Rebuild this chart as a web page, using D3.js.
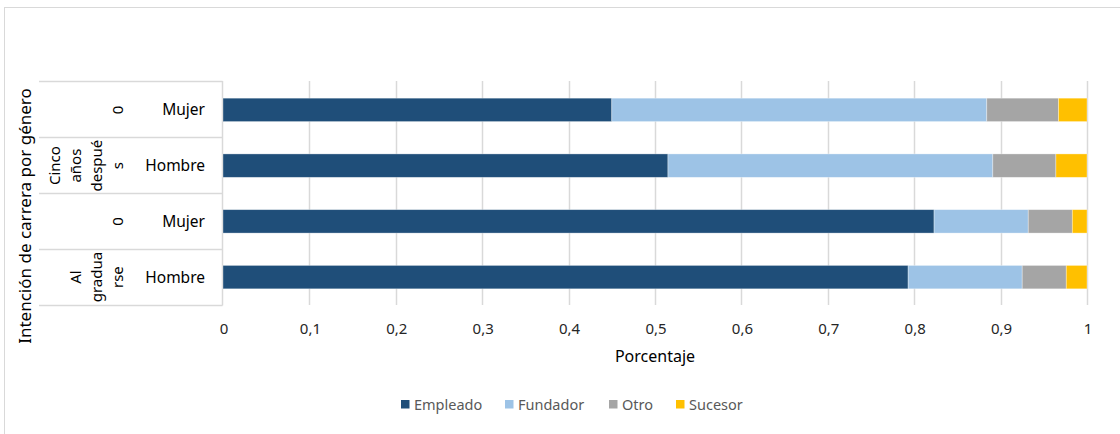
<!DOCTYPE html>
<html>
<head>
<meta charset="utf-8">
<script src="https://cdn.jsdelivr.net/npm/d3@7"></script>
<style>
  html, body { margin: 0; padding: 0; background: #fff; }
  svg { display: block; font-family: "Noto Sans", "Open Sans", sans-serif; }
</style>
</head>
<body>
<svg id="chart" width="1120" height="434"></svg>
<script>
// ---- data (rows top to bottom) ----
const rowLabels = ["Mujer", "Hombre", "Mujer", "Hombre"];
const groupLines = [["0"], ["Cinco", "años", "despué", "s"], ["0"], ["Al", "gradua", "rse"]];
const seriesNames = ["Empleado", "Fundador", "Otro", "Sucesor"];
const empleado = [0.450, 0.515, 0.823, 0.793];
const fundador = [0.434, 0.376, 0.109, 0.132];
const otro     = [0.083, 0.073, 0.051, 0.051];
const sucesor  = [0.033, 0.036, 0.017, 0.024];
const xTicks = [0, 0.1, 0.2, 0.3, 0.4, 0.5, 0.6, 0.7, 0.8, 0.9, 1];
const colors = ["#1F4E79", "#9DC3E6", "#A5A5A5", "#FFC000"];
const xTitle = "Porcentaje";
const yTitle = "Intención de carrera por género";

const table = rowLabels.map((r, i) => ({
  idx: i, Empleado: empleado[i], Fundador: fundador[i], Otro: otro[i], Sucesor: sucesor[i]
}));

const svg = d3.select("#chart");
const gridColor = "#d9d9d9";

// chart border
svg.append("rect").attr("x", 4.5).attr("y", 7.5).attr("width", 1130).attr("height", 440)
  .attr("fill", "none").attr("stroke", gridColor).attr("stroke-width", 1);

const x = d3.scaleLinear().domain([0, 1]).range([223, 1087]);
const y = d3.scaleBand().domain(table.map(d => d.idx)).range([82, 305])
  .paddingInner(0.58).paddingOuter(0.29);

const locale = d3.formatLocale({decimal: ",", thousands: ".", grouping: [3], currency: ["", "€"]});
const fmt = locale.format(".1~f");

// gridlines
svg.append("g").selectAll("line").data(xTicks.filter(t => t > 0)).join("line")
  .attr("x1", d => Math.round(x(d)) + 0.5).attr("x2", d => Math.round(x(d)) + 0.5)
  .attr("y1", 81).attr("y2", 305)
  .attr("stroke", gridColor).attr("stroke-width", 1.5);

// tick labels
svg.append("g").selectAll("text").data(xTicks).join("text")
  .attr("x", d => x(d) + 1).attr("y", 334)
  .attr("text-anchor", "middle").attr("font-size", 15).attr("fill", "#262626")
  .text(d => fmt(d));

// category table lines
const rowEdges = d3.range(rowLabels.length + 1).map(i => 81 + i * 56);
svg.append("g").selectAll("line").data(rowEdges).join("line")
  .attr("x1", 39).attr("x2", 222.5)
  .attr("y1", d => d + 0.5).attr("y2", d => d + 0.5)
  .attr("stroke", gridColor).attr("stroke-width", 1.5);
svg.append("line").attr("x1", 222.5).attr("x2", 222.5).attr("y1", 81).attr("y2", 305.5)
  .attr("stroke", gridColor).attr("stroke-width", 1.5);

// stacked bars
const stack = d3.stack().keys(seriesNames);
const layers = stack(table);
svg.append("g").selectAll("g").data(layers).join("g")
  .attr("fill", (d, i) => colors[i])
  .selectAll("rect").data(d => d).join("rect")
  .attr("x", d => x(d[0])).attr("width", d => x(d[1]) - x(d[0]))
  .attr("y", d => y(d.data.idx)).attr("height", y.bandwidth())
  .attr("stroke", "#ffffff").attr("stroke-opacity", 0.45).attr("stroke-width", 0.75);

// row labels
svg.append("g").selectAll("text").data(rowLabels).join("text")
  .attr("x", 205).attr("y", (d, i) => y(i) + y.bandwidth() / 2)
  .attr("dy", "0.36em").attr("text-anchor", "end")
  .attr("font-size", 15.5).attr("fill", "#000")
  .text(d => d);

// group labels (rotated, wrapped)
const gl = svg.append("g");
groupLines.forEach((lines, i) => {
  const cy = y(i) + y.bandwidth() / 2;
  const n = lines.length;
  lines.forEach((t, j) => {
    const cx = 118 - (n - 1 - j) * 21;
    gl.append("text")
      .attr("transform", `translate(${cx},${cy}) rotate(-90)`)
      .attr("dy", "0.36em").attr("text-anchor", "middle")
      .attr("font-size", 15).attr("fill", "#000")
      .text(t);
  });
});

// axis titles
svg.append("text").attr("x", 655).attr("y", 362).attr("text-anchor", "middle")
  .attr("font-size", 16).attr("fill", "#000").text(xTitle);
svg.append("text").attr("transform", "translate(25,216) rotate(-90)")
  .attr("dy", "0.36em").attr("text-anchor", "middle")
  .attr("font-size", 17).attr("fill", "#000").text(yTitle);

// legend
const legendX = [401, 505, 609, 676];
const lg = svg.append("g").selectAll("g").data(seriesNames).join("g")
  .attr("transform", (d, i) => `translate(${legendX[i]},400)`);
lg.append("rect").attr("width", 8.5).attr("height", 8.5).attr("fill", (d, i) => colors[i]);
lg.append("text").attr("x", 13).attr("y", 4.5).attr("dy", "0.36em")
  .attr("font-size", 14.5).attr("fill", "#595959").text(d => d);
</script>
</body>
</html>
